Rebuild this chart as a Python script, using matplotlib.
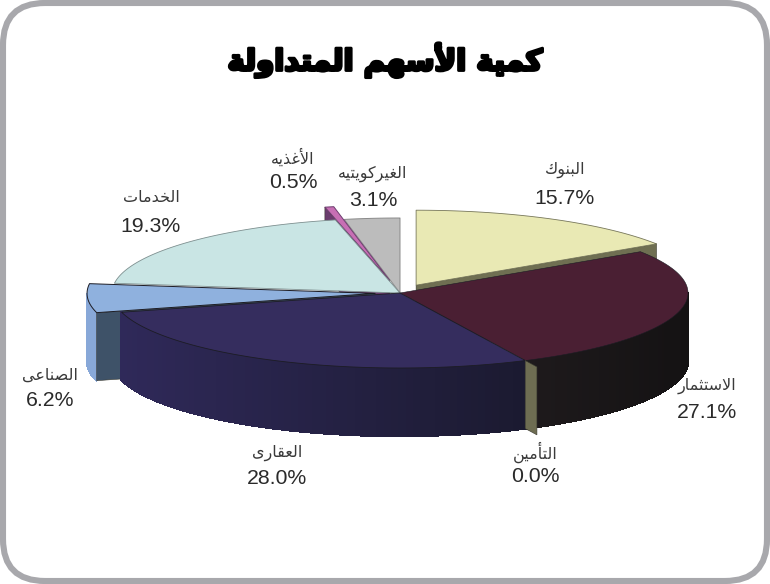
import numpy as np
import matplotlib
matplotlib.use("Agg")
import matplotlib.pyplot as plt
from matplotlib.patches import FancyBboxPatch, Polygon
import matplotlib.patheffects as pe
from matplotlib.colors import to_rgb

title = "كمية الأسهم المتداولة"
categories = ["البنوك", "الاستثمار", "التأمين", "العقارى", "الصناعى", "الخدمات", "الأغذيه", "الغيركويتيه"]
values = [15.7, 27.1, 0.0, 28.0, 6.2, 19.3, 0.5, 3.1]

# --- minimal Arabic shaping (matplotlib does not shape or reorder) ---
FORMS = {
 'ا':(0xFE8D,0xFE8E), 'أ':(0xFE83,0xFE84), 'ب':(0xFE8F,0xFE90,0xFE91,0xFE92), 'ة':(0xFE93,0xFE94),
 'ت':(0xFE95,0xFE96,0xFE97,0xFE98), 'ث':(0xFE99,0xFE9A,0xFE9B,0xFE9C), 'خ':(0xFEA5,0xFEA6,0xFEA7,0xFEA8),
 'د':(0xFEA9,0xFEAA), 'ذ':(0xFEAB,0xFEAC), 'ر':(0xFEAD,0xFEAE), 'س':(0xFEB1,0xFEB2,0xFEB3,0xFEB4),
 'ص':(0xFEB9,0xFEBA,0xFEBB,0xFEBC), 'ع':(0xFEC9,0xFECA,0xFECB,0xFECC), 'غ':(0xFECD,0xFECE,0xFECF,0xFED0),
 'ق':(0xFED5,0xFED6,0xFED7,0xFED8), 'ك':(0xFED9,0xFEDA,0xFEDB,0xFEDC), 'ل':(0xFEDD,0xFEDE,0xFEDF,0xFEE0),
 'م':(0xFEE1,0xFEE2,0xFEE3,0xFEE4), 'ن':(0xFEE5,0xFEE6,0xFEE7,0xFEE8), 'ه':(0xFEE9,0xFEEA,0xFEEB,0xFEEC),
 'و':(0xFEED,0xFEEE), 'ى':(0xFEEF,0xFEF0), 'ي':(0xFEF1,0xFEF2,0xFEF3,0xFEF4),
}
LAM_ALEF = {'ا':(0xFEFB,0xFEFC), 'أ':(0xFEF7,0xFEF8)}

def shape(text):
    out = []
    for word in text.split(' '):
        glyphs, i, prev_joins = [], 0, False
        while i < len(word):
            c = word[i]
            if c == 'ل' and i + 1 < len(word) and word[i + 1] in LAM_ALEF:
                glyphs.append(chr(LAM_ALEF[word[i + 1]][1 if prev_joins else 0]))
                prev_joins = False
                i += 2
                continue
            f = FORMS[c]
            next_ok = i + 1 < len(word) and len(f) == 4
            if prev_joins and next_ok:
                g = f[3]
            elif prev_joins:
                g = f[1]
            elif next_ok:
                g = f[2]
            else:
                g = f[0]
            glyphs.append(chr(g))
            prev_joins = len(f) == 4
            i += 1
        out.append(''.join(reversed(glyphs)))
    return ' '.join(reversed(out))

W, H = 770, 584
fig = plt.figure(figsize=(W / 100, H / 100), dpi=100, facecolor='white')
ax = fig.add_axes([0, 0, 1, 1])
ax.set_xlim(0, W)
ax.set_ylim(H, 0)
ax.axis('off')

# frame
ax.add_patch(FancyBboxPatch((3, 3), W - 6, H - 6, boxstyle="round,pad=0,rounding_size=42",
                            fc='white', ec='#a8a8ac', lw=4.4, zorder=0))

# pie geometry
CX, CY, RX, RY, DEPTH = 400, 293, 288, 75, 68
cum = np.concatenate([[0], np.cumsum(values)])
T0 = np.radians(cum[:-1] / 100 * 360 * 100 / cum[-1])
T1 = np.radians(cum[1:] / 100 * 360 * 100 / cum[-1])
explode = [34, 0, 27, 0, 25, 0, 50, 0]

def rim(t, off=(0, 0)):
    t = np.asarray(t)
    return np.column_stack([CX + RX * np.sin(t) + off[0], CY - RY * np.cos(t) + off[1]])

def offset(i):
    m = (T0[i] + T1[i]) / 2
    return (explode[i] * np.sin(m), -explode[i] * RY / RX * np.cos(m))

def top(i, fc, z, ec='#1c1c24', lw=0.7):
    o = offset(i)
    t = np.linspace(T0[i], T1[i], 120)
    pts = np.vstack([[CX + o[0], CY + o[1]], rim(t, o)])
    ax.add_patch(Polygon(pts, closed=True, fc=fc, ec=ec, lw=lw, zorder=z, joinstyle='round'))

def wall(i, c_left, c_right, z):
    o = offset(i)
    a, b = max(T0[i], np.pi / 2), min(T1[i], 3 * np.pi / 2)
    edges = np.linspace(a, b, 70)
    cl, cr = np.array(to_rgb(c_left)), np.array(to_rgb(c_right))
    xs = rim(edges, o)
    xmin, xmax = xs[:, 0].min(), xs[:, 0].max()
    for k in range(len(edges) - 1):
        seg = rim(np.linspace(edges[k], edges[k + 1], 4), o)
        poly = np.vstack([seg, seg[::-1] + [0, DEPTH]])
        f = (seg[:, 0].mean() - xmin) / max(xmax - xmin, 1)
        col = cl + (cr - cl) * f
        ax.add_patch(Polygon(poly, closed=True, fc=col, ec=col, lw=1.0, zorder=z, antialiased=False))

def cut_face(i, t, fc, z, from_rim=False):
    o = offset(i)
    outer = rim([t], o)[0]
    inner = rim([t])[0] if from_rim else np.array([CX + o[0], CY + o[1]])
    ax.add_patch(Polygon([inner, outer, outer + [0, DEPTH], inner + [0, DEPTH]], closed=True,
                         fc=fc, ec='#3a3a30', lw=0.4, zorder=z))

# back slices
top(7, '#bcbcbc', 2, ec='#8a8a8a')
cut_face(6, T0[6], '#6b3d6e', 2.2)
top(6, '#c76fb4', 2.4, ec='#6b3d6e')
top(5, '#c9e5e4', 3, ec='#7d8f8f', lw=0.6)

# banks
cut_face(0, T1[0], '#6f6f52', 4)
top(0, '#e9e9b4', 5, ec='#77775a', lw=0.6)

# industrial
wall(4, '#88a8d8', '#88a8d8', 6)
cut_face(4, T0[4], '#3e5268', 6.5)
top(4, '#8fb1de', 7)

# investment and real estate
wall(1, '#1e1a1c', '#141213', 8)
wall(3, '#2f2959', '#1b1a30', 9)
top(1, '#4a1f33', 10, lw=0.4)
top(3, '#352d5e', 11, lw=0.6)

# insurance (zero-width slice: only its cut face shows)
cut_face(2, T0[2], '#6e6d52', 12, from_rim=True)

# labels: horizontal centre, y of Arabic line, y of percentage line
label_pos = [(565, 170, 198), (707, 386, 412), (535, 452, 477), (277, 453, 479),
             (50, 375, 401), (151, 198, 226), (293, 157, 183), (373, 174, 200)]
for name, val, (x, y1, y2) in zip(categories, values, label_pos):
    ax.text(x, y1, shape(name), ha='center', va='center', fontsize=11.5, color='#3a3a3a',
            family='DejaVu Sans', zorder=20)
    ax.text(x, y2, f"{val:.1f}%", ha='center', va='center', fontsize=15.3, color='#2a2a2a',
            family='Liberation Sans', zorder=20)

# title
ax.text(385, 60, shape(title), ha='center', va='center', fontsize=21, color='black',
        family='DejaVu Sans', weight='bold', zorder=20,
        path_effects=[pe.withStroke(linewidth=2.2, foreground='black')])

fig.savefig('out.png', dpi=100)
